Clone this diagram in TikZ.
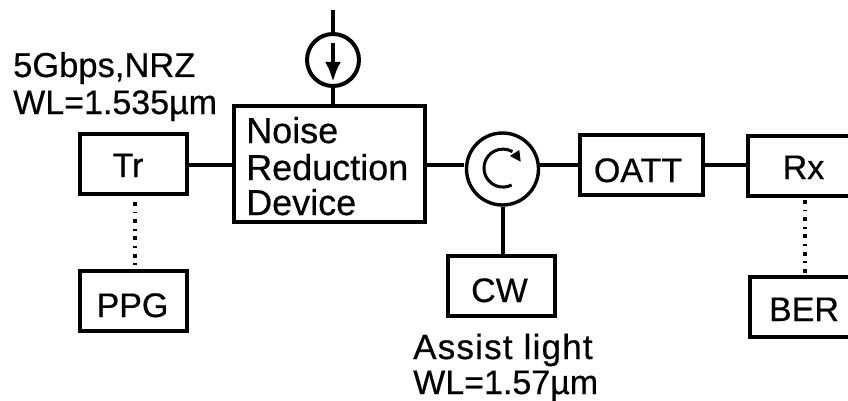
\documentclass[tikz,border=0pt]{standalone}
\usepackage{fontspec}
\setmainfont{Liberation Sans}
\newfontfamily\heavy[FakeBold=0.5]{Liberation Sans}
\newfontfamily\heavywide[FakeBold=0.5,LetterSpace=3.5]{Liberation Sans}
\newcommand{\fsz}[1]{\heavy\fontsize{#1}{#1}\selectfont}
\usetikzlibrary{arrows.meta}
\tikzset{
  x=1pt,y=-1pt,
  wire/.style={line width=4pt},
  thinwire/.style={line width=3.4pt},
  dotwire/.style={line width=4pt,dash pattern=on 4pt off 5.85pt on 1.5pt off 5.85pt},
  blockbox/.style={draw,line width=4pt,minimum width=#1,minimum height=60pt,inner sep=0pt,text=black,text depth=0pt,font=\fsz{34}},
  ringshape/.style={draw,circle,inner sep=0pt,minimum size=#1},
  caption/.style={anchor=base west,inner sep=0pt},
}
\begin{document}
\begin{tikzpicture}
\useasboundingbox (0,0) rectangle (848,401);
\clip (0,0) rectangle (848,401);
\node[blockbox=107pt,text height=26pt] (tr) at (133.5,164) {\hspace*{-11pt}Tr};
\node[blockbox=107pt,text height=32pt] (ppg) at (133.5,301) {\hspace*{-2pt}PPG};
\node[draw,line width=4pt,minimum width=191pt,minimum height=116pt,inner sep=0pt] (nrd) at (329.5,164) {};
\node[caption,font=\fsz{36}] (n1) at (246,143) {Noise};
\node[caption,font=\fsz{36}] (n2) at (246,180) {Reduction};
\node[caption,font=\fsz{36}] (n3) at (246,215) {Device};
\node[ringshape=52pt,line width=4pt] (src) at (333,60) {};
\coordinate (top) at (333,10);
\coordinate (arrS) at (333,43);
\coordinate (arrE) at (333,82);
\node[ringshape=72pt,line width=3.4pt] (circ) at (502.5,169) {};
\node[blockbox=123pt,text height=34pt] (oatt) at (641.5,165) {\hspace*{-7pt}OATT};
\node[blockbox=114pt,text height=27pt] (rx) at (805,165.5) {\hspace*{-3pt}Rx};
\node[blockbox=108pt,text height=29pt] (ber) at (804,306.5) {BER};
\node[blockbox=107pt,text height=33pt] (cw) at (501.5,285.5) {\hspace*{-4pt}CW};
\node[caption,font=\fsz{34.5}] (c1) at (13,77) {5Gbps,NRZ};
\node[caption,font=\fsz{34}] (c2) at (13,114) {WL=1.535µm};
\node[caption,font=\heavywide\fontsize{35}{35}\selectfont] (c3) at (413,359) {Assist light};
\node[caption,font=\fsz{34}] (c4) at (413,394) {WL=1.57µm};
\coordinate (nrdR) at (nrd.east |- 0,165);
\coordinate (cL) at (circ.west |- 0,165);
\coordinate (cR) at (circ.east |- 0,165);
\coordinate (trdot) at (135,202);
\coordinate (ppgdot) at (135,265);
\coordinate (rxdot) at (805,200);
\coordinate (berdot) at (805,273);
\draw[wire] (tr.east |- 0,165) -- (nrd.west |- 0,165);
\draw[wire] (top) -- (src.north);
\draw[wire] (src.south) -- (src.south |- nrd.north);
\draw[thinwire] (nrdR) -- ([xshift=-1pt]cL);
\draw[thinwire] ([xshift=-3pt]cR) -- (oatt.west |- cR);
\draw[thinwire] (oatt.east) -- (rx.west |- oatt.east);
\draw[wire] (circ.south) -- (cw.north -| circ.south);
\draw[dotwire] (trdot) -- (ppgdot);
\draw[dotwire] (rxdot) -- (berdot);
\draw[wire,-{Latex[length=20pt,width=16pt]}] (arrS) -- (arrE);
\draw[line width=3pt] (511.6,185) arc[start angle=63,end angle=300,radius=19];
\fill (520.7,161.7) -- (519.3,150) -- (510,156) -- cycle;
\end{tikzpicture}
\end{document}
